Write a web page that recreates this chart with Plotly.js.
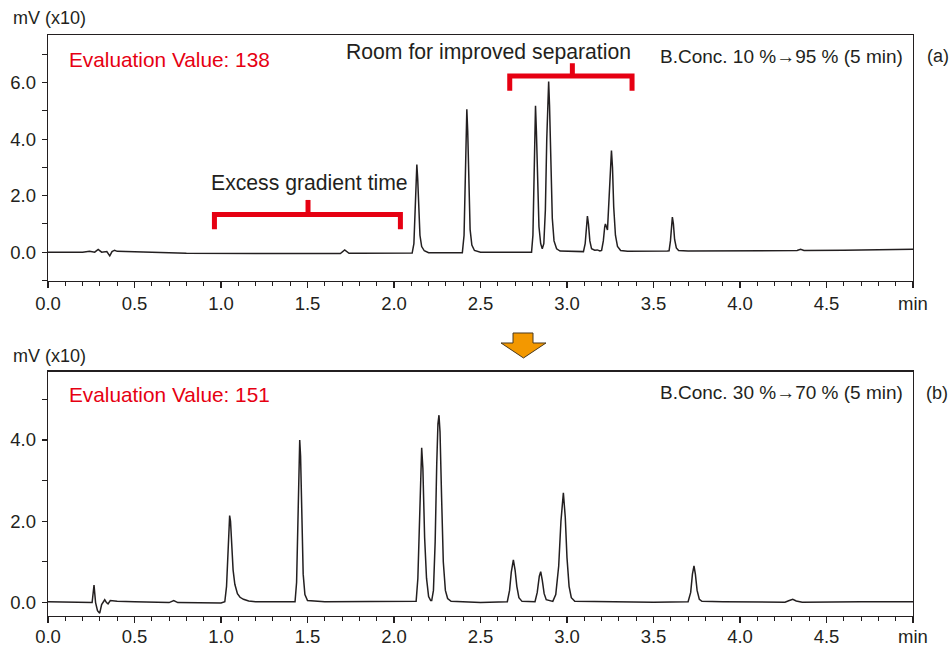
<!DOCTYPE html>
<html>
<head>
<meta charset="utf-8">
<script src="https://cdn.plot.ly/plotly-3.0.1.min.js"></script>
<style>html,body{margin:0;padding:0;background:#fff;}#chart{width:950px;height:645px;}</style>
</head>
<body>
<div id="chart"></div>
<script>
// ---- Data ----
// (a) B.Conc. 10 % -> 95 % (5 min)
const timeA = [0.00,0.10,0.15,0.20,0.24,0.27,0.29,0.31,0.34,0.357,0.37,0.385,0.40,0.50,0.60,0.80,1.00,1.30,1.60,1.69,1.715,1.74,1.80,2.00,2.105,
  2.115,2.122,2.128,2.132,2.137,2.143,2.150,2.160,2.175,2.200,2.380,
  2.395,2.405,2.412,2.418,2.421,2.426,2.432,2.440,2.450,2.465,2.500,2.780,
  2.795,2.803,2.810,2.815,2.818,2.823,2.830,2.838,2.848,2.857,
  2.866,2.875,2.883,2.890,2.894,2.899,2.906,2.915,2.925,2.940,2.960,3.050,
  3.095,3.105,3.112,3.118,3.124,3.132,3.142,3.160,3.175,3.190,3.200,
  3.210,3.218,3.222,3.234,3.242,3.250,3.257,3.263,3.270,3.280,3.292,3.310,3.350,3.580,
  3.590,3.598,3.604,3.609,3.615,3.622,3.632,3.645,3.700,4.000,4.330,4.350,4.370,4.600,5.000];
const signalA = [0.00,0.00,0.02,0.00,0.03,0.00,0.10,0.00,0.02,-0.13,0.02,0.07,0.03,0.02,0.00,-0.04,-0.05,-0.05,-0.05,-0.05,0.08,-0.04,-0.04,-0.03,-0.03,
  0.30,1.60,2.80,3.10,2.60,1.40,0.60,0.20,0.05,-0.02,-0.02,
  -0.02,0.60,2.50,4.50,5.06,4.30,2.20,0.80,0.25,0.06,0.00,0.00,
  0.00,0.60,2.80,4.80,5.18,4.30,2.20,0.90,0.30,0.12,
  0.30,1.50,4.00,5.70,6.04,5.20,3.00,1.20,0.40,0.12,0.04,0.02,
  0.02,0.30,1.00,1.28,1.00,0.40,0.12,0.07,0.08,0.04,0.06,
  0.40,0.90,1.00,0.79,1.80,3.20,3.60,3.00,1.60,0.60,0.20,0.06,0.03,0.04,
  0.05,0.40,1.00,1.24,1.00,0.45,0.15,0.06,0.04,0.05,0.06,0.10,0.06,0.07,0.10];

// (b) B.Conc. 30 % -> 70 % (5 min)
const timeB = [0.00,0.20,0.255,0.266,0.275,0.286,0.299,0.310,0.318,0.328,0.338,0.347,0.360,0.40,0.50,0.70,0.727,0.75,1.00,1.022,
  1.032,1.040,1.046,1.050,1.055,1.062,1.070,1.080,1.095,1.110,1.130,1.160,1.200,1.300,1.428,
  1.437,1.445,1.451,1.455,1.460,1.467,1.475,1.485,1.500,1.600,2.000,2.128,
  2.138,2.146,2.154,2.160,2.167,2.177,2.188,2.200,2.212,2.218,
  2.228,2.238,2.247,2.254,2.260,2.266,2.275,2.285,2.297,2.310,2.330,2.500,2.655,
  2.668,2.678,2.690,2.700,2.710,2.722,2.740,2.815,
  2.828,2.840,2.848,2.857,2.868,2.880,2.918,
  2.935,2.952,2.965,2.979,2.990,3.000,3.012,3.025,3.045,3.200,3.500,3.700,
  3.715,3.725,3.734,3.742,3.752,3.765,3.780,3.900,4.260,4.285,4.305,4.325,4.360,4.700,5.000];
const signalB = [0.02,0.01,0.00,0.43,0.00,-0.20,-0.26,-0.05,0.00,0.07,0.00,-0.03,0.05,0.03,0.02,0.00,0.05,0.00,-0.01,0.02,
  0.40,1.40,2.00,2.14,2.00,1.40,0.80,0.45,0.22,0.13,0.08,0.04,0.02,0.02,0.02,
  0.50,2.20,3.70,4.00,3.60,2.00,0.70,0.20,0.05,0.02,0.02,0.03,
  0.60,2.00,3.40,3.81,3.30,1.60,0.60,0.15,0.05,0.05,
  0.30,1.50,3.40,4.40,4.61,4.20,2.60,1.00,0.30,0.10,0.03,0.00,0.02,
  0.30,0.75,1.05,0.80,0.40,0.12,0.03,0.02,
  0.25,0.65,0.76,0.55,0.22,0.07,0.03,
  0.20,0.90,2.00,2.70,2.10,1.10,0.40,0.12,0.03,0.02,0.01,0.02,
  0.25,0.70,0.90,0.70,0.30,0.08,0.03,0.02,0.01,0.05,0.08,0.04,0.01,0.02,0.02];

// Tick labels
const xTickVals = [0,0.5,1,1.5,2,2.5,3,3.5,4,4.5,5];
const xTickText = ["0.0","0.5","1.0","1.5","2.0","2.5","3.0","3.5","4.0","4.5","min"];
const yTickValsA = [0,2,4,6];
const yTickTextA = ["0.0","2.0","4.0","6.0"];
const yTickValsB = [0,2,4];
const yTickTextB = ["0.0","2.0","4.0"];

// Texts
const evalA = "Evaluation Value: 138";
const evalB = "Evaluation Value: 151";
const concA = "B.Conc. 10 %\u219295 % (5 min)";
const concB = "B.Conc. 30 %\u219270 % (5 min)";
const yUnit = "mV (x10)";

// ---- Styling ----
const INK = "#231f20";
const RED = "#e60012";
const FONT = "Liberation Sans, Arial, sans-serif";
const TICKSIZE = 18.5;

const traces = [
  {x: timeA, y: signalA, xaxis: "x", yaxis: "y", mode: "lines", line: {color: INK, width: 1.5}, hoverinfo: "skip"},
  {x: timeB, y: signalB, xaxis: "x2", yaxis: "y2", mode: "lines", line: {color: INK, width: 1.5}, hoverinfo: "skip"}
];

function xAxis(anchor, standoff) {
  return {
    anchor: anchor, domain: [0, 1], range: [0, 5], showgrid: false, zeroline: false,
    showline: true, linecolor: INK, linewidth: 1.3, mirror: true,
    ticks: "outside", ticklen: 6, tickwidth: 1.2, tickcolor: INK,
    tickmode: "array", tickvals: xTickVals, ticktext: xTickText,
    ticklabelstandoff: standoff,
    tickfont: {family: FONT, size: TICKSIZE, color: INK},
    minor: {dtick: 0.1, ticks: "outside", ticklen: 3.5, tickwidth: 1, tickcolor: INK, showgrid: false}
  };
}
function yAxis(anchor, dom, rng, tv, tt) {
  return {
    anchor: anchor, domain: dom, range: rng, showgrid: false, zeroline: false,
    showline: true, linecolor: INK, linewidth: 1.3, mirror: true,
    ticks: "outside", ticklen: 5, tickwidth: 1.2, tickcolor: INK,
    tickmode: "array", tickvals: tv, ticktext: tt,
    ticklabelstandoff: 2,
    tickfont: {family: FONT, size: TICKSIZE, color: INK},
    minor: {dtick: 1, ticks: "outside", ticklen: 5, tickwidth: 1, tickcolor: INK, showgrid: false}
  };
}

const ann = (text, xref, yref, x, y, xa, size, color, ya) => ({
  text: text, xref: xref, yref: yref, x: x, y: y, xanchor: xa, yanchor: ya || "middle",
  showarrow: false, font: {family: FONT, size: size, color: color}
});

const layout = {
  width: 950, height: 645,
  margin: {l: 48, r: 37, t: 35, b: 29},
  paper_bgcolor: "#ffffff", plot_bgcolor: "#ffffff",
  showlegend: false,
  xaxis: xAxis("y", 0),
  yaxis: yAxis("x", [0.5766, 1], [-1.02, 7.69], yTickValsA, yTickTextA),
  xaxis2: xAxis("y2", -3),
  yaxis2: yAxis("x2", [0, 0.4205], [-0.33, 5.68], yTickValsB, yTickTextB),
  annotations: [
    ann(yUnit, "paper", "paper", -0.0428, 1.029, "left", 18, INK),
    ann(yUnit, "paper", "paper", -0.0428, 0.4475, "left", 18, INK),
    ann(evalA, "x domain", "y domain", 0.0216, 0.901, "left", 20.8, RED),
    ann(evalB, "x2 domain", "y2 domain", 0.0216, 0.9046, "left", 20.8, RED),
    ann(concA, "x domain", "y domain", 0.9908, 0.9146, "right", 19, INK),
    ann(concB, "x2 domain", "y2 domain", 0.9908, 0.914, "right", 19, INK),
    ann("(a)", "paper", "paper", 1.0135, 0.9639, "left", 18, INK),
    ann("(b)", "paper", "paper", 1.0125, 0.3843, "left", 18, INK),
    ann("Room for improved separation", "x", "y", 1.712, 7.1, "left", 21.2, INK),
    ann("Excess gradient time", "x", "y", 0.93, 2.46, "left", 21.2, INK)
  ],
  shapes: [
    {type: "path", xref: "x", yref: "y", path: "M0.962,0.81 L0.962,1.33 L2.037,1.33 L2.037,0.81", line: {color: RED, width: 5}},
    {type: "path", xref: "x", yref: "y", path: "M1.503,1.33 L1.503,1.85", line: {color: RED, width: 5}},
    {type: "path", xref: "x", yref: "y", path: "M2.669,5.72 L2.669,6.24 L3.376,6.24 L3.376,5.72", line: {color: RED, width: 5}},
    {type: "path", xref: "x", yref: "y", path: "M3.031,6.24 L3.031,6.69", line: {color: RED, width: 5}},
    {type: "path", xref: "paper", yref: "paper",
     path: "M0.5376,0.4871 L0.5607,0.4871 L0.5607,0.4699 L0.5757,0.4699 L0.5497,0.4441 L0.5237,0.4699 L0.5376,0.4699 Z",
     fillcolor: "#f39800", line: {color: "#4a3a20", width: 1}}
  ]
};

Plotly.newPlot("chart", traces, layout, {staticPlot: true, displayModeBar: false});
</script>
</body>
</html>
